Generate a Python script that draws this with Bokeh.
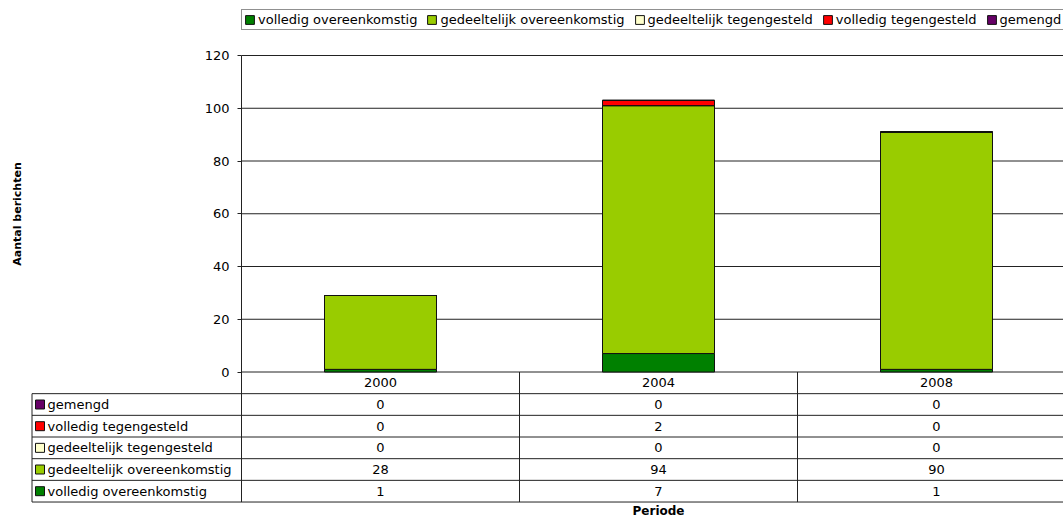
from bokeh.plotting import figure
from bokeh.models import (Range1d, Legend, LegendItem, ColumnDataSource, FixedTicker,
                          LinearAxis)
from bokeh.embed import file_html
from bokeh.resources import INLINE
from bokeh.core.properties import value

# ---------------- data ----------------
periods = ["2000", "2004", "2008"]
series_names = [
    "volledig overeenkomstig",
    "gedeeltelijk overeenkomstig",
    "gedeeltelijk tegengesteld",
    "volledig tegengesteld",
    "gemengd",
]
volledig_overeenkomstig = [1, 7, 1]
gedeeltelijk_overeenkomstig = [28, 94, 90]
gedeeltelijk_tegengesteld = [0, 0, 0]
volledig_tegengesteld = [0, 2, 0]
gemengd = [0, 0, 0]
series_colors = ["#008000", "#99CC00", "#FFFFCC", "#FF0000", "#660066"]
y_ticks = [0, 20, 40, 60, 80, 100, 120]
y_title = "Aantal berichten"
x_title = "Periode"

series_values = [
    volledig_overeenkomstig,
    gedeeltelijk_overeenkomstig,
    gedeeltelijk_tegengesteld,
    volledig_tegengesteld,
    gemengd,
]

# ---------------- layout constants (pixels) ----------------
FONT = "DejaVu Sans"
FS = "13px"
W, H = 1063, 517
X0 = 241.0          # plot-area left
SLOT = 278.0        # px per category slot
Y0 = 371.5          # value 0
Y120 = 55.0         # value 120
ROW = 21.67         # table row height
LINE = "#222222"

ppu = (Y0 - Y120) / 120.0
x_start, x_end = -X0 / SLOT, (W - X0) / SLOT

keys = ["s%d" % i for i in range(len(series_names))]
data = {"x": [i + 0.5 for i in range(len(periods))]}
for k, v in zip(keys, series_values):
    data[k] = v
src = ColumnDataSource(data)

p = figure(width=W, height=H, x_range=Range1d(x_start, x_end),
           y_range=Range1d(-(H - Y0) / ppu, 120 + Y120 / ppu),
           output_backend="svg", toolbar_location=None,
           x_axis_location=None, y_axis_location=None, min_border=0)
p.extra_y_ranges = {"table": Range1d((H - Y0) / ROW, -Y0 / ROW)}
p.outline_line_color = None
p.grid.visible = False
p.background_fill_color = "white"
p.border_fill_color = "white"

# gridlines (plot area only)
p.segment(x0=[0] * len(y_ticks), x1=[x_end + 1] * len(y_ticks), y0=y_ticks, y1=y_ticks,
          line_color=LINE, line_width=1)

renderers = p.vbar_stack(keys, x="x", width=112 / SLOT, source=src,
                         fill_color=series_colors, line_color="#111111", line_width=1)

yaxis = LinearAxis(fixed_location=0, bounds=(0, 120), ticker=FixedTicker(ticks=y_ticks))
yaxis.axis_line_color = LINE
yaxis.major_tick_line_color = LINE
yaxis.major_tick_out = 4
yaxis.major_tick_in = 0
yaxis.minor_tick_line_color = None
yaxis.major_label_text_font = FONT
yaxis.major_label_text_font_size = FS
yaxis.major_label_text_color = "black"
yaxis.major_label_standoff = 8
yaxis.axis_label = y_title
yaxis.axis_label_text_font = FONT
yaxis.axis_label_text_font_style = "bold"
yaxis.axis_label_text_font_size = "11px"
yaxis.axis_label_text_color = "black"
yaxis.axis_label_standoff = 178
p.add_layout(yaxis, "left")

legend = Legend(
    items=[LegendItem(label=n, renderers=[r]) for n, r in zip(series_names, renderers)],
    orientation="horizontal", location=(X0, H - 30), margin=0, padding=2,
    spacing=9, glyph_width=11, glyph_height=11, label_standoff=3,
    label_text_font=FONT, label_text_font_size=FS, label_text_color="black",
    label_height=14, border_line_color=LINE, border_line_width=1,
    background_fill_color="white", background_fill_alpha=1,
)
p.add_layout(legend, "center")

# ---------------- data table ----------------
n_rows = len(series_names)
lab_left = (31.5 - X0) / SLOT
hy = [r for r in range(1, n_rows + 2)]
p.segment(x0=[lab_left] * len(hy), x1=[x_end + 1] * len(hy), y0=hy, y1=hy,
          line_color=LINE, line_width=1, y_range_name="table")
vx = list(range(0, len(periods) + 1))
p.segment(x0=vx, x1=vx, y0=[0] * len(vx), y1=[n_rows + 1] * len(vx),
          line_color=LINE, line_width=1, y_range_name="table")
p.segment(x0=[lab_left], x1=[lab_left], y0=[1], y1=[n_rows + 1],
          line_color=LINE, line_width=1, y_range_name="table")

xs = [i + 0.5 for i in range(len(periods))]
p.text(x=xs, y=[0.5] * len(periods), text=periods, text_align="center",
       text_baseline="middle", text_font=value(FONT), text_font_size=FS,
       text_color="black", y_range_name="table")

order = list(range(n_rows))[::-1]
for row, si in enumerate(order, start=1):
    vals = [str(v) for v in series_values[si]]
    p.text(x=xs, y=[row + 0.5] * len(xs), text=vals, text_align="center",
           text_baseline="middle", text_font=value(FONT), text_font_size=FS,
           text_color="black", y_range_name="table")

sq_x = (39.5 - X0) / SLOT
lbl_x = (47 - X0) / SLOT
rows_y = [r + 0.5 for r in range(1, n_rows + 1)]
p.rect(x=[sq_x] * n_rows, y=rows_y, width=9, height=9, width_units="screen",
       height_units="screen", fill_color=[series_colors[i] for i in order],
       line_color="#111111", line_width=1, y_range_name="table")
p.text(x=[lbl_x] * n_rows, y=rows_y, text=[series_names[i] for i in order],
       text_align="left", text_baseline="middle", text_font=value(FONT),
       text_font_size=FS, text_color="black", y_range_name="table")

p.text(x=[len(periods) / 2], y=[(503.5 - Y0) / ROW], text=[x_title],
       text_align="center", text_baseline="top", text_font=value(FONT),
       text_font_size="12px", text_font_style="bold", text_color="black",
       y_range_name="table")

open("out.html", "w").write(file_html(p, INLINE))
